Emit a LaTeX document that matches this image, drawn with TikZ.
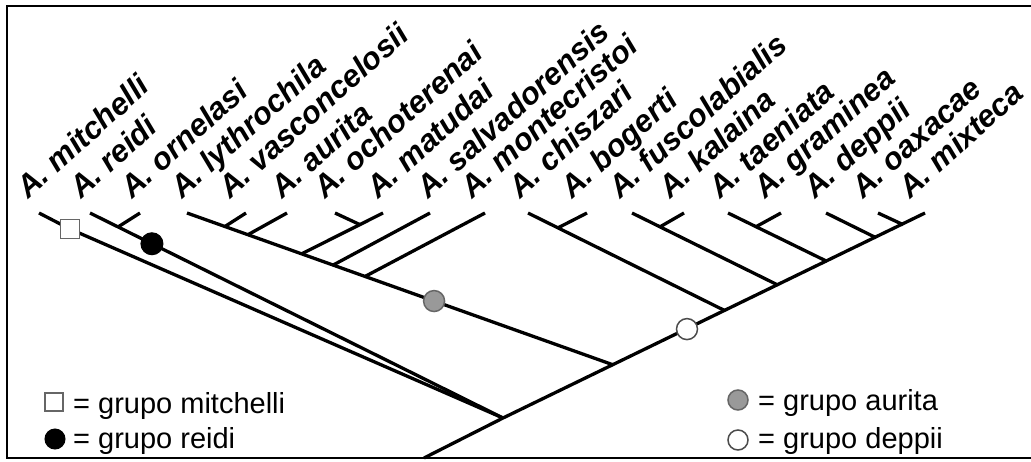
\documentclass[tikz,border=0pt]{standalone}
\usepackage{fontspec}
\setmainfont{Liberation Sans}
\usetikzlibrary{calc}
\begin{document}
\begin{tikzpicture}[x=1pt,y=-1pt,
  br/.style={line width=3.3pt},
  lab/.style={font=\fontsize{31}{31}\selectfont\bfseries\itshape, rotate=42, anchor=base west, inner sep=0pt},
  leg/.style={font=\fontsize{29}{29}\selectfont, anchor=base west, inner sep=0pt},
  sqm/.style={draw=black!60, fill=white, line width=1.5pt, minimum size=19pt, inner sep=0pt},
  dotk/.style={circle, fill=black, draw=black, line width=1pt, minimum size=22pt, inner sep=0pt},
  dotg/.style={circle, fill=black!40, draw=black!60, line width=1.5pt, minimum size=21pt, inner sep=0pt},
  dotw/.style={circle, fill=white, draw=black!70, line width=1.5pt, minimum size=21pt, inner sep=0pt},
]
\useasboundingbox (0,0) rectangle (1031,461);
\fill[white] (0,0) rectangle (1031,461);
\draw[line width=2.2pt] (1031,6) -- (7,6) -- (7,458) -- (1031,458);

% tips
\coordinate (tmit) at (39,213);
\coordinate (trei) at (90,213);
\coordinate (torn) at (140,213);
\coordinate (tlyt) at (187,213);
\coordinate (tvas) at (246,213);
\coordinate (taur) at (287,213);
\coordinate (toch) at (335,213);
\coordinate (tmat) at (383,213);
\coordinate (tsal) at (430,213);
\coordinate (tmon) at (485,213);
\coordinate (tchi) at (528,213);
\coordinate (tbog) at (587,213);
\coordinate (tfus) at (632,213);
\coordinate (tkal) at (684,213);
\coordinate (ttae) at (728,213);
\coordinate (tgra) at (781,213);
\coordinate (tdep) at (826,213);
\coordinate (toax) at (878,213);
\coordinate (tmix) at (925,213);

% root and junctions
\coordinate (R) at (503,418);
\coordinate (Bot) at (424,458);
\coordinate (Joax) at (903,224.6);
\coordinate (Jdep) at (876,237.7);
\coordinate (Jtae) at (827,261.4);
\coordinate (Jfus) at (778,285.1);
\coordinate (Jchi) at (725,310.7);
\coordinate (Jaur) at (613,364.8);
\coordinate (Jgra) at ($(ttae)!0.283!(Jtae)$);
\coordinate (Jkal) at ($(tfus)!0.192!(Jfus)$);
\coordinate (Jbog) at ($(tchi)!0.152!(Jchi)$);
\coordinate (Jvas) at ($(tlyt)!0.089!(Jaur)$);
\coordinate (Jau2) at ($(tlyt)!0.143!(Jaur)$);
\coordinate (Jmat) at ($(tlyt)!0.269!(Jaur)$);
\coordinate (Jsal) at ($(tlyt)!0.343!(Jaur)$);
\coordinate (Jmon) at ($(tlyt)!0.418!(Jaur)$);
\coordinate (Joch) at ($(tmat)!0.284!(Jmat)$);
\coordinate (Jorn) at ($(trei)!0.068!(R)$);

% branches
\draw[br] (Bot) -- (R) -- (tmix);
\draw[br] (toax) -- (Joax);
\draw[br] (tdep) -- (Jdep);
\draw[br] (ttae) -- (Jtae);
\draw[br] (tgra) -- (Jgra);
\draw[br] (tfus) -- (Jfus);
\draw[br] (tkal) -- (Jkal);
\draw[br] (tchi) -- (Jchi);
\draw[br] (tbog) -- (Jbog);
\draw[br] (tlyt) -- (Jaur);
\draw[br] (tvas) -- (Jvas);
\draw[br] (taur) -- (Jau2);
\draw[br] (tmat) -- (Jmat);
\draw[br] (toch) -- (Joch);
\draw[br] (tsal) -- (Jsal);
\draw[br] (tmon) -- (Jmon);
\draw[br] (trei) -- (R);
\draw[br] (torn) -- (Jorn);
\draw[br] (tmit) -- (70,229) -- (R);

% group markers
\node[sqm] (gmit) at (70,229) {};
\node[dotk] (grei) at ($(trei)!0.15!(R)$) {};
\node[dotg] (gaur) at ($(tlyt)!0.58!(Jaur)$) {};
\node[dotw] (gdep) at (687,329.1) {};

% labels
\node[lab] (lmit) at (28,200) {A. mitchelli};
\node[lab] (lrei) at (81,200) {A. reidi};
\node[lab] (lorn) at (132,200) {A. ornelasi};
\node[lab] (llyt) at (182,200) {A. lythrochila};
\node[lab] (lvas) at (230,200) {A. vasconcelosii};
\node[lab] (laur) at (282,200) {A. aurita};
\node[lab] (loch) at (325,200) {A. ochoterenai};
\node[lab] (lmat) at (378,200) {A. matudai};
\node[lab] (lsal) at (428,200) {A. salvadorensis};
\node[lab] (lmon) at (472,200) {A. montecristoi};
\node[lab] (lchi) at (520,200) {A. chiszari};
\node[lab] (lbog) at (572,200) {A. bogerti};
\node[lab] (lfus) at (620,200) {A. fuscolabialis};
\node[lab] (lkal) at (670,200) {A. kalaina};
\node[lab] (ltae) at (720,200) {A. taeniata};
\node[lab] (lgra) at (765,200) {A. graminea};
\node[lab] (ldep) at (815,200) {A. deppii};
\node[lab] (loax) at (863,200) {A. oaxacae};
\node[lab] (lmix) at (910,200) {A. mixteca};

% legend
\node[sqm, minimum size=18pt, line width=1.2pt] (kmit) at (54,402) {};
\node[leg] (tkmit) at (73,413) {= grupo mitchelli};
\node[dotk, minimum size=20pt] (krei) at (55,439) {};
\node[leg] (tkrei) at (73,448) {= grupo reidi};
\node[dotg, minimum size=20pt] (kaur) at (738,400) {};
\node[leg] (tkaur) at (758,410) {= grupo aurita};
\node[dotw, minimum size=20pt] (kdep) at (738,440) {};
\node[leg] (tkdep) at (758,448) {= grupo deppii};
\end{tikzpicture}
\end{document}
